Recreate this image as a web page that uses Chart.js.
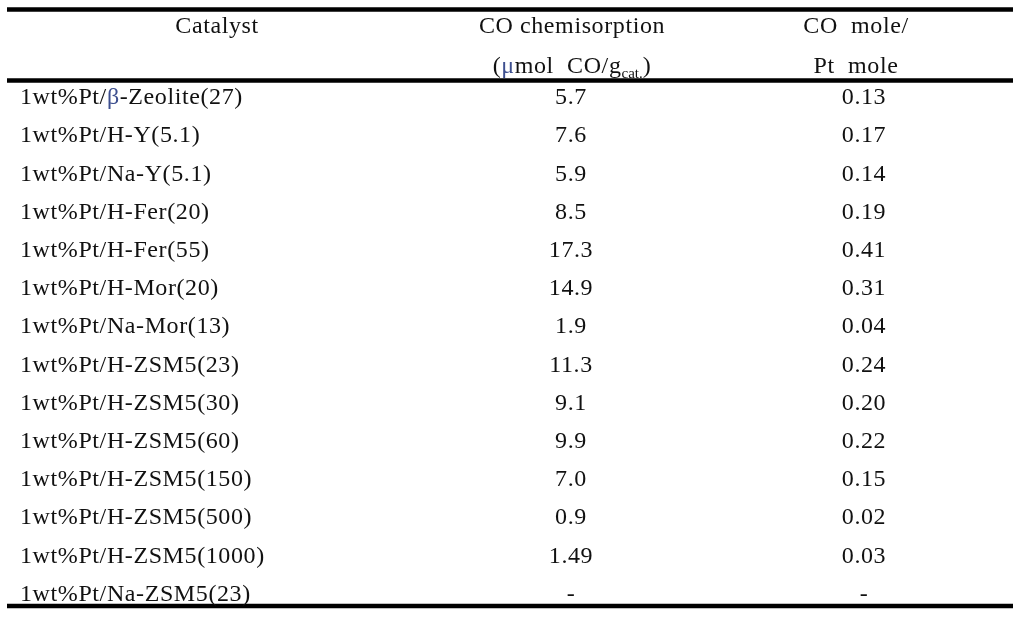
<!DOCTYPE html>
<html>
<head>
<meta charset="utf-8">
<script src="https://cdn.jsdelivr.net/npm/chart.js@4.4.1/dist/chart.umd.min.js"></script>
<style>
html, body { margin: 0; padding: 0; background: #ffffff; }
canvas { display: block; }
</style>
</head>
<body>
<canvas id="table" width="1019" height="619"></canvas>
<script>
// table content
const header_top = ['Catalyst', 'CO chemisorption', 'CO  mole/'];
const header_bottom = ['', '(μmol  CO/g_cat.)', 'Pt  mole'];
const catalysts = [
    '1wt%Pt/β-Zeolite(27)',
    '1wt%Pt/H-Y(5.1)',
    '1wt%Pt/Na-Y(5.1)',
    '1wt%Pt/H-Fer(20)',
    '1wt%Pt/H-Fer(55)',
    '1wt%Pt/H-Mor(20)',
    '1wt%Pt/Na-Mor(13)',
    '1wt%Pt/H-ZSM5(23)',
    '1wt%Pt/H-ZSM5(30)',
    '1wt%Pt/H-ZSM5(60)',
    '1wt%Pt/H-ZSM5(150)',
    '1wt%Pt/H-ZSM5(500)',
    '1wt%Pt/H-ZSM5(1000)',
    '1wt%Pt/Na-ZSM5(23)'
];
const co_chemisorption = [5.7, 7.6, 5.9, 8.5, 17.3, 14.9, 1.9, 11.3, 9.1, 9.9, 7.0, 0.9, 1.49, null];
const co_per_pt = [0.13, 0.17, 0.14, 0.19, 0.41, 0.31, 0.04, 0.24, 0.20, 0.22, 0.15, 0.02, 0.03, null];

// layout (x in fractions of the width, y in row units)
const col_x = [20 / 1019, 571 / 1019, 864 / 1019];
const col_align = ['left', 'center', 'center'];
const header_x = [217 / 1019, 572 / 1019, 856 / 1019];
const row_pitch = 38.2;
const y_min = -98 / row_pitch;
const y_max = y_min + 619 / row_pitch;
const header_rows = [(27 - 98) / row_pitch, (67 - 98) / row_pitch];
const rules = [
    { y: (9.5 - 98) / row_pitch, width: 4.5 },
    { y: (80.5 - 98) / row_pitch, width: 4.5 },
    { y: (606 - 98) / row_pitch, width: 4.5 }
];
const rule_x = [7 / 1019, 1013 / 1019];

const font_family = '"Liberation Serif", "Times New Roman", serif';
const font_size = 24;
const letter_spacing = '0.6px';
const text_color = '#111111';
const symbol_color = '#3d4f8f';

function format_value(v, digits) {
    if (v === null) {
        return '-';
    }
    if (digits) {
        return v.toFixed(digits);
    }
    let tenths = v * 10;
    return Math.abs(tenths - Math.round(tenths)) < 1e-9 ? v.toFixed(1) : String(v);
}

function to_segments(str) {
    let parts = str.split(/(β|μ|_[^)]+)/).filter(p => p.length > 0);
    return parts.map(p => {
        if (p === 'β' || p === 'μ') {
            return { text: p, symbol: true };
        }
        if (p[0] === '_') {
            return { text: p.slice(1), sub: true };
        }
        return { text: p };
    });
}

function set_font(ctx, seg) {
    let size = seg.sub ? Math.round(font_size * 0.62) : font_size;
    ctx.font = size + 'px ' + font_family;
    ctx.letterSpacing = seg.sub ? '0px' : letter_spacing;
}

function draw_segments(ctx, str, x, y, align) {
    let segments = to_segments(str);
    let total = 0;
    segments.forEach(seg => {
        set_font(ctx, seg);
        seg.width = ctx.measureText(seg.text).width;
        total += seg.width;
    });
    let cur = align === 'center' ? x - total / 2 : x;
    segments.forEach(seg => {
        set_font(ctx, seg);
        ctx.fillStyle = seg.symbol ? symbol_color : text_color;
        ctx.fillText(seg.text, cur, seg.sub ? y + 7 : y);
        cur += seg.width;
    });
}

const table_plugin = {
    id: 'table_plugin',
    beforeDraw(chart) {
        let ctx = chart.ctx;
        ctx.save();
        ctx.fillStyle = '#ffffff';
        ctx.fillRect(0, 0, chart.width, chart.height);
        ctx.restore();
    },
    afterDatasetsDraw(chart) {
        let ctx = chart.ctx;
        let x_scale = chart.scales.x;
        let y_scale = chart.scales.y;
        ctx.save();
        ctx.textBaseline = 'middle';
        ctx.textAlign = 'left';

        // horizontal rules
        ctx.strokeStyle = '#000000';
        rules.forEach(rule => {
            let py = y_scale.getPixelForValue(rule.y);
            ctx.lineWidth = rule.width;
            ctx.beginPath();
            ctx.moveTo(x_scale.getPixelForValue(rule_x[0]), py);
            ctx.lineTo(x_scale.getPixelForValue(rule_x[1]), py);
            ctx.stroke();
        });

        // header
        [header_top, header_bottom].forEach((line, r) => {
            let py = y_scale.getPixelForValue(header_rows[r]);
            line.forEach((text, c) => {
                if (text) {
                    draw_segments(ctx, text, x_scale.getPixelForValue(header_x[c]), py, 'center');
                }
            });
        });

        // body cells, placed on the dataset points
        chart.data.datasets.forEach((ds, c) => {
            let meta = chart.getDatasetMeta(c);
            meta.data.forEach((pt, i) => {
                draw_segments(ctx, ds.cell_text[i], pt.x, pt.y, col_align[c]);
            });
        });
        ctx.restore();
    }
};

const columns = [
    catalysts,
    co_chemisorption.map(v => format_value(v)),
    co_per_pt.map(v => format_value(v, 2))
];

const data = {
    datasets: columns.map((texts, c) => ({
        label: header_top[c],
        data: texts.map((_, i) => ({ x: col_x[c], y: i })),
        cell_text: texts,
        pointRadius: 0,
        pointHoverRadius: 0,
        showLine: false
    }))
};

const config = {
    type: 'scatter',
    data,
    options: {
        responsive: false,
        animation: false,
        events: [],
        layout: { padding: 0 },
        plugins: {
            legend: { display: false },
            tooltip: { enabled: false }
        },
        scales: {
            x: { type: 'linear', display: false, min: 0, max: 1 },
            y: { type: 'linear', display: false, min: y_min, max: y_max, reverse: true }
        }
    },
    plugins: [table_plugin]
};

new Chart(document.getElementById('table'), config);
</script>
</body>
</html>
